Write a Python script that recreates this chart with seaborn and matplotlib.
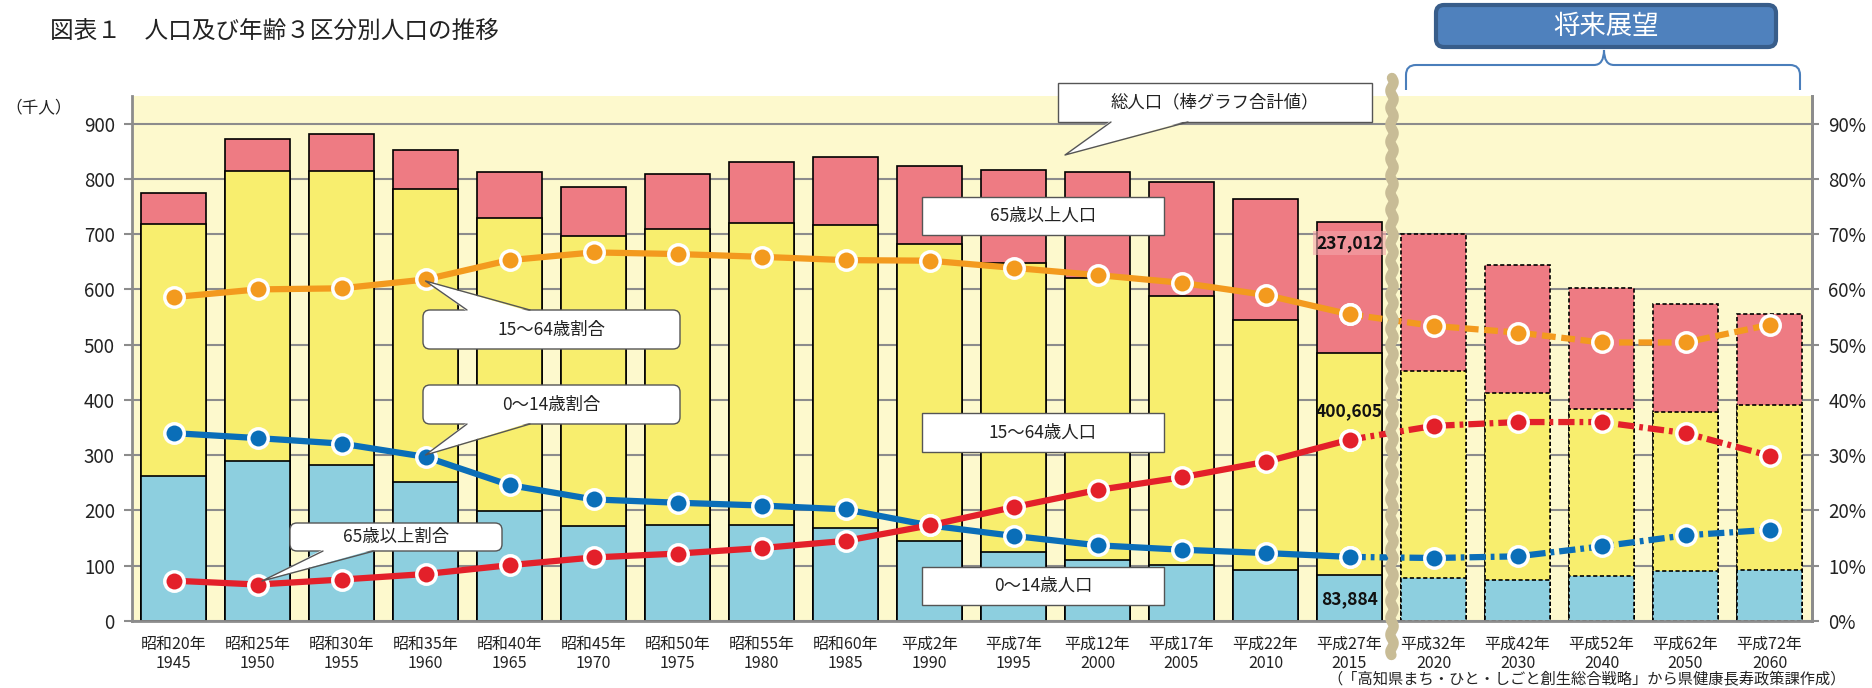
import numpy as np
import pandas as pd
import matplotlib
matplotlib.use("Agg")
import matplotlib.pyplot as plt
import seaborn as sns
import matplotlib.transforms as mtransforms
from matplotlib.patches import FancyBboxPatch, Polygon, PathPatch
from matplotlib.lines import Line2D
from matplotlib.path import Path

# ---------------- data ----------------
labels = ["昭和20年\n1945", "昭和25年\n1950", "昭和30年\n1955", "昭和35年\n1960",
          "昭和40年\n1965", "昭和45年\n1970", "昭和50年\n1975", "昭和55年\n1980",
          "昭和60年\n1985", "平成2年\n1990", "平成7年\n1995", "平成12年\n2000",
          "平成17年\n2005", "平成22年\n2010", "平成27年\n2015", "平成32年\n2020",
          "平成42年\n2030", "平成52年\n2040", "平成62年\n2050", "平成72年\n2060"]
pop_0_14 = [263, 289, 283, 252, 199, 172, 173, 173, 168, 144, 125, 110, 102, 92,
            83.884, 78, 75, 81, 90, 92]
pop_15_64 = [455, 526, 532, 529, 531, 524, 536, 548, 549, 538, 523, 511, 487, 453,
             400.605, 374, 338, 303, 289, 298]
pop_65 = [57, 58, 67, 72, 82, 90, 99, 110, 122, 142, 168, 192, 206, 219,
          237.012, 248, 231, 218, 195, 166]
pct_0_14 = [34.0, 33.1, 32.1, 29.7, 24.6, 22.0, 21.4, 20.9, 20.2, 17.3, 15.4, 13.7,
            12.9, 12.3, 11.6, 11.4, 11.7, 13.5, 15.5, 16.5]
pct_15_64 = [58.6, 60.0, 60.2, 61.8, 65.3, 66.7, 66.4, 65.9, 65.3, 65.2, 63.9, 62.6,
             61.2, 59.0, 55.5, 53.4, 52.2, 50.4, 50.4, 53.6]
pct_65 = [7.3, 6.6, 7.5, 8.5, 10.1, 11.5, 12.2, 13.2, 14.5, 17.3, 20.6, 23.7,
          26.0, 28.8, 32.8, 35.3, 36.0, 36.0, 34.0, 29.9]
n_actual = 15  # 1945-2015 actual, rest projections

value_labels = ["237,012", "400,605", "83,884"]

# ---------------- style ----------------
sns.set_style("white")
plt.rcParams["font.family"] = ["Noto Sans CJK JP", "DejaVu Sans"]

C_BLUE_BAR = "#8DCFDF"
C_YEL_BAR = "#F8EE6E"
C_PINK_BAR = "#EE7B83"
C_ORANGE = "#F39A1E"
C_BLUE = "#0A6EB8"
C_RED = "#E3202A"
C_GRID = "#8C8C8C"
C_BG = "#FDF9CD"
C_TXT = "#222222"

W, H = 1872, 688
fig = plt.figure(figsize=(W / 100, H / 100), dpi=100)
# pixel coordinate transform (origin top-left, y down)
T = mtransforms.Affine2D().scale(1 / W, -1 / H).translate(0, 1) + fig.transFigure

ax = fig.add_axes([131.5 / W, 1 - 621 / H, 1680 / W, 525 / H])

df = pd.DataFrame({"idx": np.arange(len(labels)),
                   "a": pop_0_14, "b": pop_15_64, "c": pop_65})
df["mid"] = df["a"] + df["b"]
df["total"] = df["a"] + df["b"] + df["c"]

for col, colr in [("total", C_PINK_BAR), ("mid", C_YEL_BAR), ("a", C_BLUE_BAR)]:
    n0 = len(ax.patches)
    sns.barplot(data=df, x="idx", y=col, color=colr, saturation=1, width=0.77,
                edgecolor="black", linewidth=1.2, errorbar=None, ax=ax)
    for i, p in enumerate(ax.patches[n0:]):
        if i >= n_actual:
            p.set_linestyle((0, (2.5, 1.5)))

ax.set_facecolor(C_BG)
ax.set_xlim(-0.5, len(labels) - 0.5)
ax.set_ylim(0, 950)
ax.set_xlabel("")
ax.set_ylabel("")
ax.set_axisbelow(True)
ax.set_yticks(np.arange(0, 901, 100))
ax.yaxis.grid(True, color=C_GRID, lw=1.5)
ax.xaxis.grid(False)
ax.set_xticks(range(len(labels)))
ax.set_xticklabels(labels, fontsize=11.5, linespacing=1.15, color=C_TXT)
ax.tick_params(axis="x", which="major", length=0, pad=11)
ax.set_xticks(np.arange(-0.5, len(labels), 1), minor=True)
ax.tick_params(axis="x", which="minor", length=5, width=1.5, color=C_GRID)
ax.tick_params(axis="y", length=6, width=1.5, color=C_GRID, labelsize=13.5,
               pad=6, labelcolor=C_TXT, left=True)
ax.spines["top"].set_visible(False)
for s in ["left", "bottom", "right"]:
    ax.spines[s].set_color(C_GRID)
    ax.spines[s].set_linewidth(2)

ax2 = ax.twinx()
ax2.set_ylim(0, 95)
ax2.set_yticks(np.arange(0, 91, 10))
ax2.set_yticklabels([f"{v}%" for v in range(0, 91, 10)])
ax2.tick_params(axis="y", length=5, width=1.5, color=C_GRID, labelsize=13.5,
                pad=7, labelcolor=C_TXT, right=True)
ax2.grid(False)
ax2.spines["top"].set_visible(False)
ax2.spines["left"].set_visible(False)
ax2.spines["bottom"].set_visible(False)
ax2.spines["right"].set_color(C_GRID)
ax2.spines["right"].set_linewidth(2)

idx = np.arange(len(labels))
marker_kw = dict(marker="o", markersize=14, markeredgecolor="white",
                 markeredgewidth=2.5)
for vals, colr, dash in [(pct_0_14, C_BLUE, (0, (2.6, 0.8, 0.6, 0.8))),
                         (pct_15_64, C_ORANGE, (0, (2.2, 0.9))),
                         (pct_65, C_RED, (0, (2.6, 0.8, 0.6, 0.8)))]:
    vals = np.asarray(vals)
    sns.lineplot(x=idx[n_actual - 1:], y=vals[n_actual - 1:], ax=ax2, color=colr,
                 lw=4.5, linestyle=dash, errorbar=None, legend=False, **marker_kw)
    sns.lineplot(x=idx[:n_actual], y=vals[:n_actual], ax=ax2, color=colr,
                 lw=4.5, errorbar=None, legend=False, **marker_kw)
ax2.set_xlabel("")
ax2.set_ylabel("")

# value labels on the 2015 bar
lab_kw = dict(ha="center", va="center", fontsize=12.5, fontweight="bold", color="#111111")
ax.text(n_actual - 1, 684, value_labels[0],
        bbox=dict(boxstyle="square,pad=0.15", fc="#F4A6AB", ec="none", alpha=0.6),
        **lab_kw)
ax.text(n_actual - 1, 380, value_labels[1], **lab_kw)
ax.text(n_actual - 1, 40, value_labels[2], **lab_kw)

# ---------------- annotations ----------------
def callout(x0, y0, x1, y1, text, rounded=False, ptr=None, fs=12.5):
    style = "round,pad=0,rounding_size=7" if rounded else "square,pad=0"
    fig.add_artist(FancyBboxPatch((x0, y0), x1 - x0, y1 - y0, boxstyle=style,
                                  transform=T, fc="white", ec="#555555", lw=1.0,
                                  zorder=5))
    if ptr is not None:
        bx1, bx2, by, tx, ty = ptr
        yin = by + 1.5 if ty < by else by - 1.5
        fig.add_artist(Polygon([(bx1, yin), (bx2, yin), (tx, ty)], closed=True,
                               transform=T, fc="white", ec="none", zorder=6))
        fig.add_artist(Line2D([bx1, tx, bx2], [by, ty, by], color="#555555",
                              lw=1.0, transform=T, zorder=7))
    fig.text((x0 + x1) / 2 / W, 1 - (y0 + y1) / 2 / H, text, ha="center",
             va="center", fontsize=fs, color=C_TXT, zorder=8)

callout(1058, 83, 1372, 122, "総人口（棒グラフ合計値）", ptr=(1111, 1188, 122, 1065, 155))
callout(922, 197, 1164, 235, "65歳以上人口")
callout(922, 413, 1164, 452, "15〜64歳人口")
callout(922, 567, 1164, 605, "0〜14歳人口")
callout(423, 310, 680, 349, "15〜64歳割合", rounded=True, ptr=(467, 530, 310, 425.5, 281))
callout(423, 385, 680, 424, "0〜14歳割合", rounded=True, ptr=(467, 530, 424, 425.5, 455))
callout(290, 523, 502, 551, "65歳以上割合", rounded=True, ptr=(323, 374, 551, 262, 581))

# wavy separator between actual and projected
wy = np.linspace(78, 655, 500)
wx = 1392 + 1.6 * np.sin(2 * np.pi * (wy - 78) / 17.0)
fig.add_artist(Line2D(wx, wy, color="#C8BC96", lw=7.5, transform=T, zorder=4,
                      solid_capstyle="round"))

# "将来展望" header box + brace
fig.add_artist(FancyBboxPatch((1436, 5), 340, 42, boxstyle="round,pad=0,rounding_size=8",
                              transform=T, fc="#4F81BD", ec="#385D8A", lw=3, zorder=5))
fig.text(1606 / W, 1 - 26 / H, "将来展望", ha="center", va="center", fontsize=19,
         color="white", zorder=8)
bl, bt, br = 1406, 1604, 1800
verts = [(bl, 90), (bl, 75), (bl, 65), (bl + 10, 65), (bt - 10, 65), (bt, 65),
         (bt, 50), (bt, 65), (bt + 10, 65), (br - 10, 65), (br, 65), (br, 75),
         (br, 90)]
codes = [Path.MOVETO, Path.LINETO, Path.CURVE3, Path.CURVE3, Path.LINETO,
         Path.CURVE3, Path.CURVE3, Path.CURVE3, Path.CURVE3, Path.LINETO,
         Path.CURVE3, Path.CURVE3, Path.LINETO]
fig.add_artist(PathPatch(Path(verts, codes), transform=T, fc="none",
                         ec="#4A7EBB", lw=1.5, zorder=5))

# titles and notes
fig.text(50 / W, 1 - 31 / H, "図表１　人口及び年齢３区分別人口の推移", ha="left",
         va="center", fontsize=17, color=C_TXT)
fig.text(39 / W, 1 - 108 / H, "（千人）", ha="center", va="center", fontsize=12,
         color=C_TXT)
fig.text(1846 / W, 1 - 680 / H,
         "（「高知県まち・ひと・しごと創生総合戦略」から県健康長寿政策課作成）",
         ha="right", va="center", fontsize=11.0, color=C_TXT)

fig.savefig("out.png", dpi=100)
